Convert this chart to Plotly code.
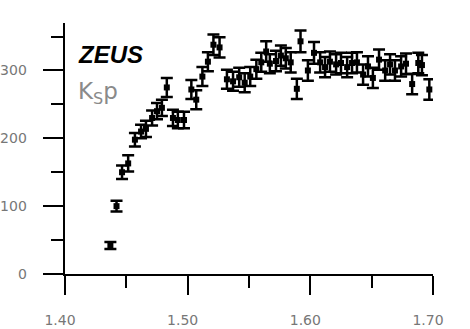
import plotly.graph_objects as go

mass = [1.437, 1.442, 1.4465, 1.4515, 1.457, 1.462, 1.466, 1.471, 1.475, 1.479,
        1.483, 1.488, 1.492, 1.497, 1.503, 1.507, 1.512, 1.5165, 1.521, 1.526,
        1.532, 1.537, 1.542, 1.5465, 1.551, 1.556, 1.560, 1.564, 1.567, 1.572,
        1.576, 1.580, 1.584, 1.589, 1.592, 1.598, 1.603, 1.608, 1.612, 1.616,
        1.621, 1.625, 1.630, 1.634, 1.638, 1.643, 1.647, 1.651, 1.656, 1.661,
        1.665, 1.669, 1.674, 1.678, 1.683, 1.688, 1.691, 1.697]
counts = [42, 100, 150, 163, 198, 210, 214, 230, 240, 245,
          275, 230, 227, 227, 272, 257, 291, 313, 338, 334,
          287, 284, 290, 282, 291, 302, 312, 328, 310, 314,
          322, 318, 312, 273, 343, 300, 326, 312, 305, 313,
          309, 311, 305, 311, 312, 294, 306, 289, 316, 300,
          309, 300, 306, 310, 280, 311, 308, 272]
errors = [5, 8, 10, 12, 10, 10, 12, 11, 12, 12,
          14, 12, 12, 12, 14, 14, 14, 14, 15, 15,
          14, 14, 14, 14, 14, 14, 14, 15, 14, 15,
          15, 15, 15, 15, 16, 15, 16, 15, 15, 15,
          15, 15, 15, 15, 15, 15, 15, 15, 15, 15,
          15, 15, 15, 15, 15, 15, 15, 15]

x_ticks = [1.40, 1.50, 1.60, 1.70]
x_ticklabels = ["1.40", "1.50", "1.60", "1.70"]
y_ticks = [0, 100, 200, 300]
y_ticklabels = ["0", "100", "200", "300"]

fig = go.Figure()
fig.add_trace(go.Scatter(
    x=mass, y=counts, mode="markers",
    marker=dict(symbol="square", size=6, color="black"),
    error_y=dict(type="data", array=errors, visible=True,
                 color="black", thickness=2.5, width=6),
    cliponaxis=False, showlegend=False,
))

label_font = dict(family="DejaVu Sans", size=14, color="#777777")

fig.update_layout(
    width=470, height=329,
    margin=dict(l=65, r=37, t=23, b=55, autoexpand=False),
    paper_bgcolor="white", plot_bgcolor="white",
    xaxis=dict(
        range=[1.40, 1.70], showgrid=False, zeroline=False, automargin=False,
        showline=True, linecolor="black", linewidth=2,
        ticks="outside", ticklen=19, tickwidth=2, tickcolor="black",
        tickvals=x_ticks, ticktext=x_ticklabels,
        minor=dict(ticks="outside", ticklen=12, tickwidth=2,
                   tickcolor="black", dtick=0.05, tick0=1.40, showgrid=False),
        tickfont=label_font, ticklabelstandoff=13, ticklabelshift=-5,
    ),
    yaxis=dict(
        range=[0, 370], showgrid=False, zeroline=False, automargin=False,
        showline=True, linecolor="black", linewidth=2,
        ticks="outside", ticklen=20, tickwidth=2, tickcolor="black",
        tickvals=y_ticks,
        ticktext=[t + "<span style='color:white'>0.</span>" for t in y_ticklabels],
        minor=dict(ticks="outside", ticklen=12, tickwidth=2,
                   tickcolor="black", dtick=50, tick0=0, showgrid=False),
        tickfont=label_font,
    ),
    annotations=[
        dict(x=0.03, y=0.875, xref="paper", yref="paper", text="<b><i>ZEUS</i></b>",
             showarrow=False, xanchor="left", yanchor="middle",
             font=dict(family="Liberation Sans", size=24, color="black")),
        dict(x=0.03, y=0.72, xref="paper", yref="paper", text="K<sub>S</sub>p",
             showarrow=False, xanchor="left", yanchor="middle",
             font=dict(family="DejaVu Sans", size=23, color="#8a8a8a")),
    ],
)

fig.write_html("out.html")
